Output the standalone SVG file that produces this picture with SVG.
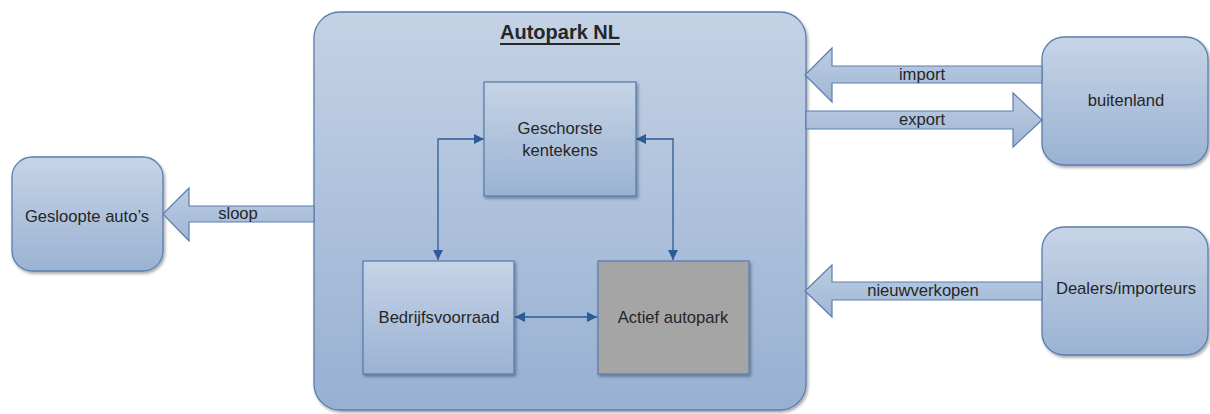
<svg xmlns="http://www.w3.org/2000/svg" width="1210" height="414" viewBox="0 0 1210 414">
<style>
text{font-family:"Liberation Sans",Arial,sans-serif;font-size:16.6px;fill:#262626;text-anchor:middle;dominant-baseline:central}
.box{fill:url(#g1);stroke:#5a7eae;stroke-width:1.3;filter:url(#sh)}
.arr{fill:url(#g2);stroke:#5a7eae;stroke-width:1.2}
.con{fill:none;stroke:#2e5b95;stroke-width:1.3;marker-start:url(#ah);marker-end:url(#ah)}
</style>
<defs>
<linearGradient id="g1" x1="0" y1="0" x2="0" y2="1"><stop offset="0" stop-color="#c6d4e6"/><stop offset="1" stop-color="#9ab2d3"/></linearGradient>
<linearGradient id="g0" x1="0" y1="0" x2="0" y2="1"><stop offset="0" stop-color="#c4d2e5"/><stop offset="1" stop-color="#97b0d2"/></linearGradient>
<linearGradient id="g2" x1="0" y1="0" x2="0" y2="1"><stop offset="0" stop-color="#bccde2"/><stop offset="1" stop-color="#9fb6d5"/></linearGradient>
<filter id="sh" x="-10%" y="-10%" width="120%" height="120%"><feDropShadow dx="1.5" dy="2" stdDeviation="1.5" flood-color="#000" flood-opacity="0.35"/></filter>
<marker id="ah" viewBox="0 0 10 10" refX="10" refY="5" markerWidth="10" markerHeight="10" markerUnits="userSpaceOnUse" orient="auto-start-reverse"><path d="M0,0 L10,5 L0,10 Z" fill="#2e5b95"/></marker>
</defs>
<g id="autopark-nl">
<rect x="314" y="12" width="492" height="398" rx="26" fill="url(#g0)" stroke="#5a7eae" stroke-width="1.3" filter="url(#sh)"/>
<text x="560" y="32" style="font-weight:bold;font-size:20px;text-decoration:underline">Autopark NL</text>
</g>
<g id="connectors">
<path class="con" d="M484,139 H438 V260"/>
<path class="con" d="M636,139 H673 V260"/>
<path class="con" d="M515,317 H597"/>
</g>
<g id="geschorste">
<rect class="box" x="484" y="82" width="152" height="114"/>
<text x="560" y="128">Geschorste</text>
<text x="560" y="150">kentekens</text>
</g>
<g id="bedrijfsvoorraad">
<rect class="box" x="363" y="261" width="151" height="113"/>
<text x="439" y="317">Bedrijfsvoorraad</text>
</g>
<g id="actief">
<rect x="598" y="261" width="151" height="113" fill="#a5a5a5" stroke="#5a7eae" stroke-width="1.3" filter="url(#sh)"/>
<text x="673" y="317">Actief autopark</text>
</g>
<g id="gesloopte">
<rect class="box" x="12" y="157" width="151" height="114" rx="20"/>
<text x="87" y="216">Gesloopte auto’s</text>
</g>
<g id="buitenland">
<rect class="box" x="1042" y="37" width="166" height="128" rx="22"/>
<text x="1126" y="100">buitenland</text>
</g>
<g id="dealers">
<rect class="box" x="1042" y="227" width="166" height="128" rx="22"/>
<text x="1126" y="288">Dealers/importeurs</text>
</g>
<g id="flows">
<path class="arr" d="M314,206 H189 V188 L163,214 L189,241 V222 H314 Z"/>
<text x="238" y="213">sloop</text>
<path class="arr" d="M1042,66 H832 V48 L805,75 L832,102 V83 H1042 Z"/>
<text x="922" y="74">import</text>
<path class="arr" d="M806,111 H1013 V93 L1042,120 L1013,147 V129 H806 Z"/>
<text x="922" y="119">export</text>
<path class="arr" d="M1042,282 H832 V265 L805,291 L832,317 V300 H1042 Z"/>
<text x="923" y="290">nieuwverkopen</text>
</g>
</svg>
